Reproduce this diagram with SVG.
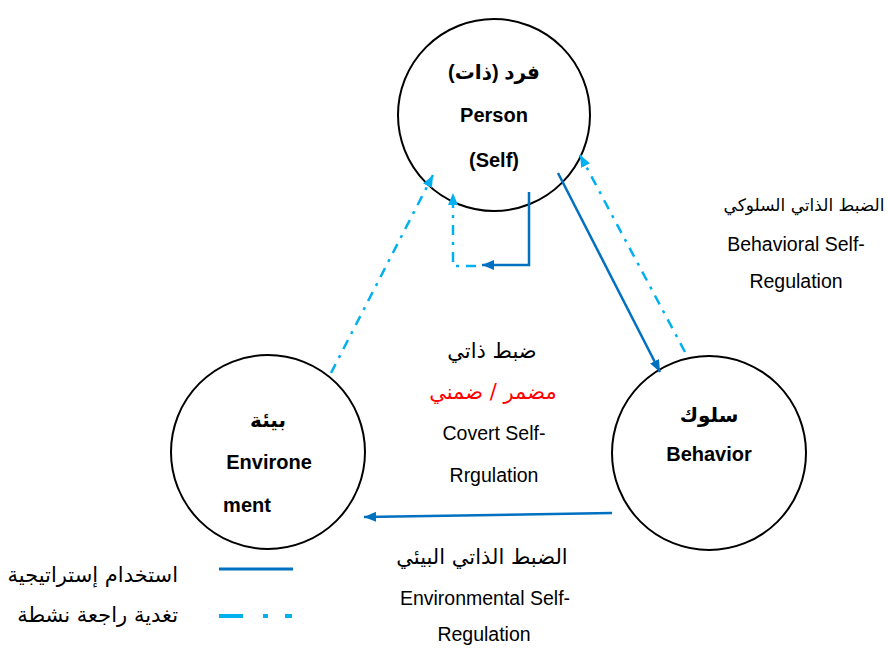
<svg xmlns="http://www.w3.org/2000/svg" width="888" height="652" viewBox="0 0 888 652">
  <style>
    .node { fill: #fff; stroke: #000; stroke-width: 2; }
    .bold { font-family: "Liberation Sans", "DejaVu Sans", sans-serif; font-weight: bold; font-size: 20px; fill: #000; text-anchor: middle; }
    .lbl { font-family: "Liberation Sans", "DejaVu Sans", sans-serif; font-size: 19.5px; fill: #000; text-anchor: middle; }
    .ar { font-family: "DejaVu Sans", "Liberation Sans", sans-serif; font-size: 21px; fill: #000; text-anchor: middle; }
    .red { fill: #FF0000; }
    .solid { fill: none; stroke: #0070C0; stroke-width: 2.5; }
    .dashdot { fill: none; stroke: #00B0F0; stroke-width: 2.5; stroke-dasharray: 10 7 3 7; }
  </style>
  <defs>
    <marker id="arrDark" viewBox="0 0 12 10" refX="12" refY="5" markerWidth="12" markerHeight="10" markerUnits="userSpaceOnUse" orient="auto">
      <path d="M0,0 L12,5 L0,10 Z" fill="#0070C0"/>
    </marker>
    <marker id="arrLight" viewBox="0 0 12 10" refX="12" refY="5" markerWidth="12" markerHeight="10" markerUnits="userSpaceOnUse" orient="auto">
      <path d="M0,0 L12,5 L0,10 Z" fill="#00B0F0"/>
    </marker>
  </defs>

  <rect width="888" height="652" fill="#fff"/>

  <!-- nodes -->
  <g id="person">
    <circle class="node" cx="494" cy="115" r="96"/>
    <text class="bold" x="494" y="79" direction="rtl">فرد (ذات)</text>
    <text class="bold" x="494" y="122">Person</text>
    <text class="bold" x="494" y="167">(Self)</text>
  </g>
  <g id="environment">
    <circle class="node" cx="268" cy="452" r="97"/>
    <text class="bold" x="268" y="427" direction="rtl">بيئة</text>
    <text class="bold" x="269" y="469">Environe</text>
    <text class="bold" x="247" y="512">ment</text>
  </g>
  <g id="behavior">
    <circle class="node" cx="709" cy="453" r="97"/>
    <text class="bold" x="709" y="422" direction="rtl">سلوك</text>
    <text class="bold" x="709" y="461">Behavior</text>
  </g>

  <!-- connectors -->
  <g id="connectors">
    <line class="solid" x1="558" y1="173" x2="660" y2="372" marker-end="url(#arrDark)"/>
    <line class="dashdot" x1="685" y1="352" x2="580" y2="155" marker-end="url(#arrLight)"/>
    <line class="dashdot" x1="331" y1="373" x2="433" y2="175" marker-end="url(#arrLight)"/>
    <polyline class="solid" points="529,192 529,265 482,265" marker-end="url(#arrDark)"/>
    <polyline class="dashdot" points="476,266 453,266 453,193" marker-end="url(#arrLight)"/>
    <line class="solid" x1="612" y1="513" x2="364" y2="517" marker-end="url(#arrDark)"/>
  </g>

  <!-- arc labels -->
  <g id="behavioral-label">
    <text class="ar" x="804" y="211" direction="rtl" style="font-size:17px">الضبط الذاتي السلوكي</text>
    <text class="lbl" x="796" y="251">Behavioral Self-</text>
    <text class="lbl" x="796" y="288">Regulation</text>
  </g>
  <g id="covert-label">
    <text class="ar" x="492" y="358" direction="rtl">ضبط ذاتي</text>
    <text class="ar red" x="493" y="399" direction="rtl">مضمر / ضمني</text>
    <text class="lbl" x="494" y="440">Covert Self-</text>
    <text class="lbl" x="494" y="482">Rrgulation</text>
  </g>
  <g id="environmental-label">
    <text class="ar" x="482" y="564" direction="rtl">الضبط الذاتي البيئي</text>
    <text class="lbl" x="485" y="605">Environmental Self-</text>
    <text class="lbl" x="484" y="641">Regulation</text>
  </g>

  <!-- legend -->
  <g id="legend">
    <line x1="219" y1="569" x2="293" y2="569" stroke="#0070C0" stroke-width="3"/>
    <text class="ar" x="178" y="582" style="text-anchor:end">استخدام إستراتيجية</text>
    <line x1="219" y1="616" x2="293" y2="616" stroke="#00B0F0" stroke-width="4" stroke-dasharray="24 20 5 17 7"/>
    <text class="ar" x="178" y="622" style="text-anchor:end">تغدية راجعة نشطة</text>
  </g>
</svg>
